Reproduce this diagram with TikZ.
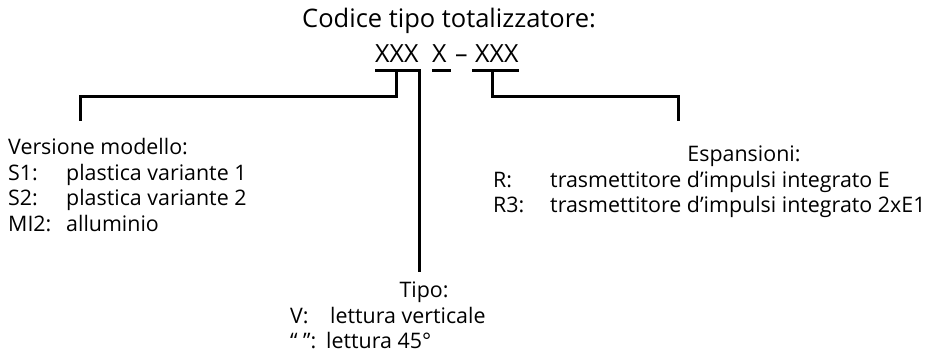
\documentclass[tikz,border=0pt]{standalone}
\usepackage{fontspec}
\setmainfont{Open Sans}
\usepackage{tikz}

\begin{document}
\begin{tikzpicture}[x=1pt, y=-1pt,
    txt/.style={inner sep=0pt, anchor=base west, font=\fontsize{21.4}{25}\selectfont},
    ttl/.style={inner sep=0pt, anchor=base, font=\fontsize{25.5}{30}\selectfont},
    codetxt/.style={inner sep=0pt, anchor=base west, font=\fontsize{25}{30}\selectfont},
    brk/.style={line width=3pt, black}
  ]
    \useasboundingbox (0,0) rectangle (925,352);
    % type code
    \node[ttl] (title) at (449,28) {Codice tipo totalizzatore:};
    \node[codetxt] (cA) at (375,63) {XXX};
    \node[codetxt] (cB) at (432,63) {X};
    \node[codetxt] (dash) at (455,63) {–};
    \node[codetxt] (cC) at (475,63) {XXX};
    \draw[brk] ([yshift=-8pt]cA.base west) -- ([xshift=2pt,yshift=-8pt]cA.base east);
    \draw[brk] ([yshift=-8pt]cB.base west) -- ([xshift=4pt,yshift=-8pt]cB.base east);
    \draw[brk] ([xshift=-3pt,yshift=-8pt]cC.base west) -- ([yshift=-8pt]cC.base east);
    % free ends of the brackets
    \coordinate (vEnd) at (80,121);
    \coordinate (tEnd) at (419,272);
    \coordinate (eEnd) at (678,121);
    \draw[brk] ([yshift=-8pt]cA.base) |- ([yshift=24pt]vEnd) -- (vEnd);
    \draw[brk] ([yshift=-8pt]tEnd |- cA.base) -- (tEnd);
    \draw[brk] ([xshift=-4pt,yshift=-8pt]cC.base) |- ([yshift=24pt]eEnd) -- (eEnd);
    % model version
    \node[txt] (ver) at (8,155) {Versione modello:};
    \node[txt] (s1k) at (8,181) {S1:};
    \node[txt] (s1v) at (66,181) {plastica variante 1};
    \node[txt] (s2k) at (8,206) {S2:};
    \node[txt] (s2v) at (66,206) {plastica variante 2};
    \node[txt] (mik) at (8,232) {MI2:};
    \node[txt] (miv) at (66,232) {alluminio};
    % type
    \node[txt, anchor=base] (tipo) at (424,298) {Tipo:};
    \node[txt] (vk) at (290,323) {V:};
    \node[txt] (vv) at (330,323) {lettura verticale};
    \node[txt] (qk) at (290,348) {“ ”:};
    \node[txt] (qv) at (326,348) {lettura 45°};
    % expansions
    \node[txt, anchor=base] (esp) at (744,162) {Espansioni:};
    \node[txt] (rk) at (493,188) {R:};
    \node[txt] (rv) at (550,188) {trasmettitore d’impulsi integrato E};
    \node[txt] (r3k) at (493,213) {R3:};
    \node[txt] (r3v) at (550,213) {trasmettitore d’impulsi integrato 2xE1};
  \end{tikzpicture}
\end{document}
